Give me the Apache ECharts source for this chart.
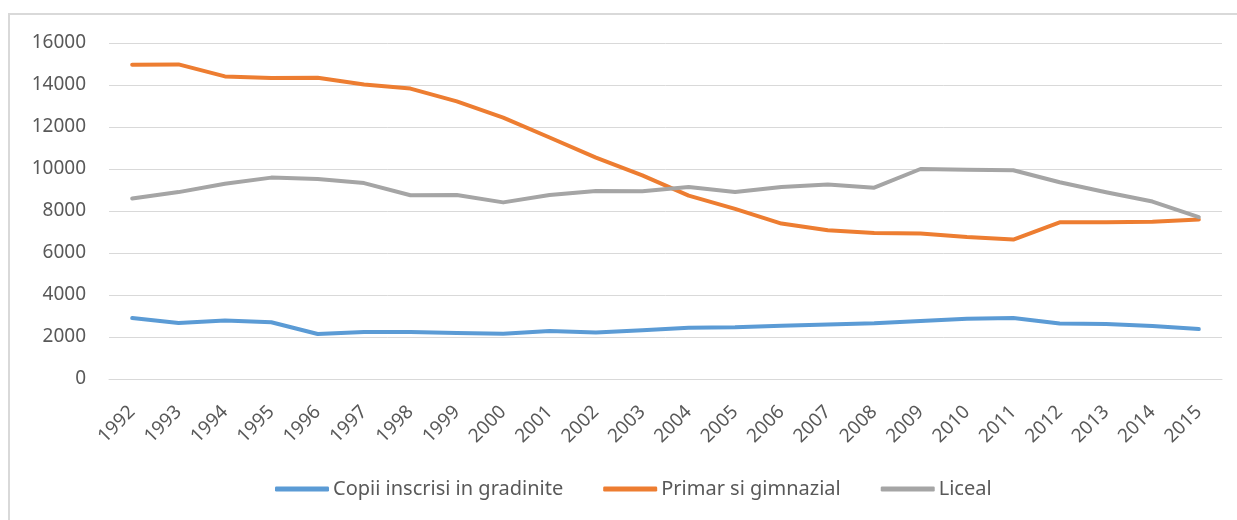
<!DOCTYPE html>
<html lang="ro">

<head>
    <meta charset="UTF-8">
    <title>Elevi inscrisi</title>
    <script src="https://cdn.jsdelivr.net/npm/echarts@6/dist/echarts.min.js"></script>
    <style>
        html, body { margin: 0; padding: 0; background: #fff; }
    </style>
</head>

<body>
    <div id="main" style="width: 1237px;height:520px;"></div>

    <script type="text/javascript">
        // date
        var ani = ['1992', '1993', '1994', '1995', '1996', '1997', '1998', '1999', '2000', '2001', '2002', '2003',
            '2004', '2005', '2006', '2007', '2008', '2009', '2010', '2011', '2012', '2013', '2014', '2015'];
        var gradinite = [2900, 2670, 2790, 2700, 2140, 2240, 2240, 2190, 2160, 2290, 2220, 2320,
            2440, 2460, 2540, 2600, 2650, 2760, 2870, 2900, 2640, 2620, 2520, 2380];
        var primar = [14970, 14980, 14410, 14330, 14350, 14020, 13830, 13220, 12450, 11500, 10540, 9700,
            8730, 8100, 7400, 7080, 6950, 6930, 6760, 6640, 7460, 7460, 7490, 7590];
        var liceal = [8600, 8900, 9300, 9590, 9520, 9330, 8750, 8760, 8410, 8760, 8950, 8940,
            9140, 8900, 9140, 9260, 9110, 10000, 9970, 9940, 9370, 8890, 8450, 7710];

        var myChart = echarts.init(document.getElementById('main'));
        var font = 'Noto Sans';
        var textColor = '#595959';

        function serie(name, data, color) {
            return {
                name: name,
                type: 'line',
                data: data,
                symbol: 'none',
                lineStyle: { color: color, width: 4, cap: 'round', join: 'round' },
                itemStyle: { color: color }
            };
        }

        var option = {
            animation: false,
            backgroundColor: '#fff',
            graphic: [{
                type: 'rect',
                shape: { x: 9, y: 14, width: 1260, height: 540 },
                style: { fill: 'none', stroke: '#d9d9d9', lineWidth: 2 },
                silent: true
            }],
            grid: { left: 109, right: 15, top: 43, bottom: 141, containLabel: false },
            legend: {
                bottom: 16,
                left: 270,
                itemWidth: 54,
                itemHeight: 5,
                itemGap: 40,
                icon: 'roundRect',
                textStyle: { fontFamily: font, fontSize: 20, color: textColor, padding: [0, 0, 0, -1] },
                data: ['Copii inscrisi in gradinite', 'Primar si gimnazial', 'Liceal']
            },
            xAxis: {
                type: 'category',
                data: ani,
                boundaryGap: true,
                axisLine: { lineStyle: { color: '#d9d9d9', width: 1 } },
                axisTick: { show: false },
                axisLabel: {
                    rotate: 45,
                    interval: 0,
                    margin: 30,
                    fontFamily: font,
                    fontSize: 19,
                    color: textColor
                }
            },
            yAxis: {
                type: 'value',
                min: 0,
                max: 16000,
                interval: 2000,
                axisLine: { show: false },
                axisTick: { show: false },
                splitLine: { lineStyle: { color: '#d9d9d9', width: 1 } },
                axisLabel: {
                    margin: 23,
                    fontFamily: font,
                    fontSize: 19,
                    color: textColor,
                    formatter: function (v) { return String(v); }
                }
            },
            series: [
                serie('Copii inscrisi in gradinite', gradinite, '#5b9bd5'),
                serie('Primar si gimnazial', primar, '#ed7d31'),
                serie('Liceal', liceal, '#a5a5a5')
            ]
        };

        myChart.setOption(option);
    </script>
</body>

</html>
